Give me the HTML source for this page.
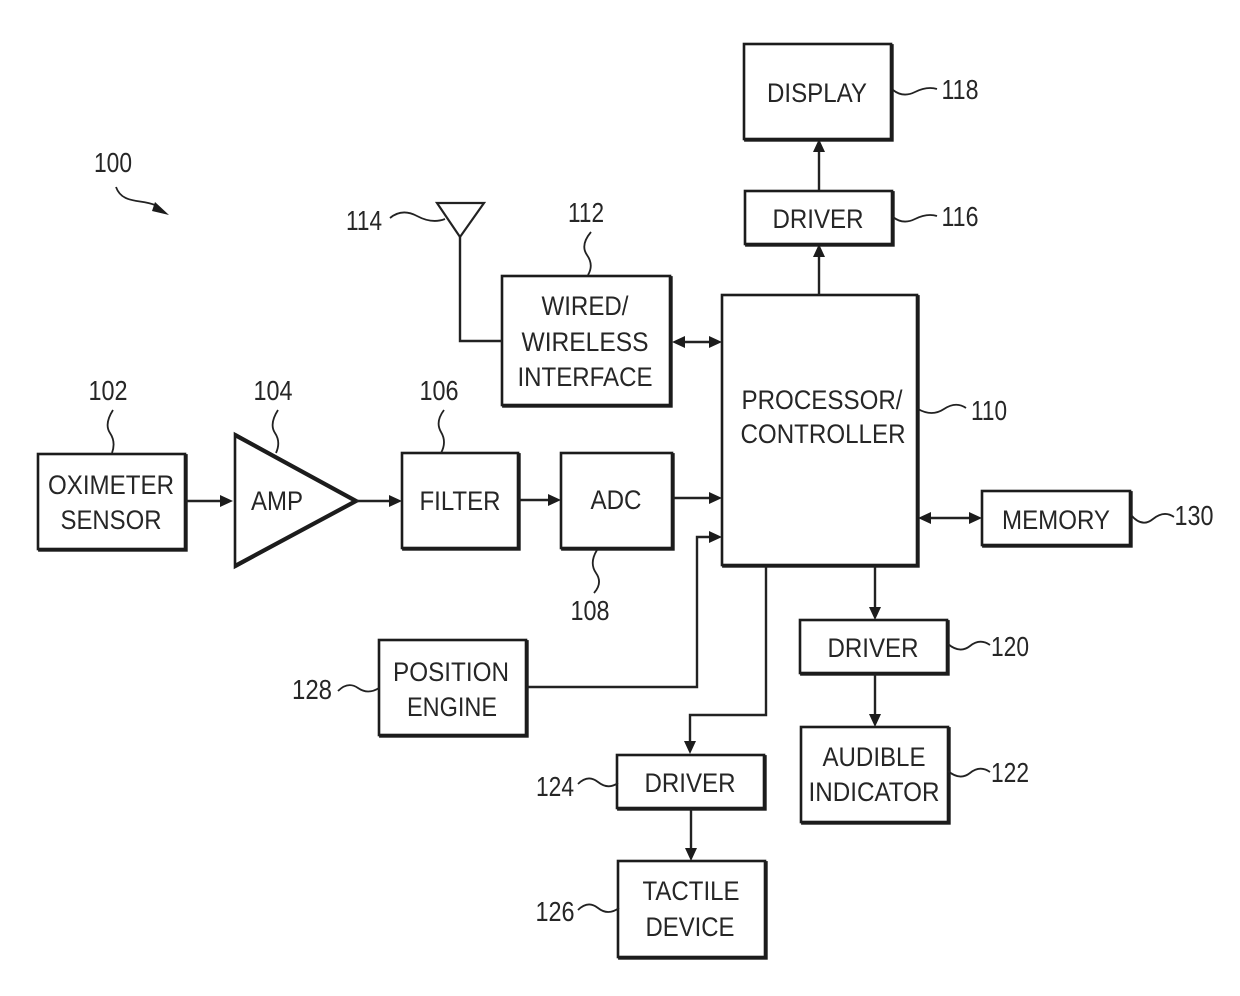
<!DOCTYPE html>
<html><head><meta charset="utf-8"><style>
html,body{margin:0;padding:0;background:#fff}
svg{display:block}
text{font-family:"Liberation Sans",sans-serif;font-size:27px;fill:#262626;text-anchor:middle}
.n{font-size:28px}
rect{fill:#fff;stroke:#1c1c1c;stroke-width:2.6}
.l{fill:none;stroke:#222;stroke-width:2.4}
.a{fill:#1c1c1c;stroke:none}
.q{fill:none;stroke:#222;stroke-width:1.8}
</style></head><body>
<svg width="1240" height="996" viewBox="0 0 1240 996" xmlns="http://www.w3.org/2000/svg">
<defs><g id="b">
<rect x="744" y="44" width="147" height="95"/>
<rect x="745" y="191" width="147" height="53"/>
<rect x="502" y="276" width="168" height="129"/>
<rect x="722" y="295" width="195" height="270"/>
<rect x="38" y="454" width="147" height="95"/>
<rect x="402" y="453" width="116" height="95"/>
<rect x="561" y="453" width="111" height="95"/>
<rect x="982" y="491" width="148" height="54"/>
<rect x="800" y="620" width="147" height="53"/>
<rect x="379" y="640" width="147" height="95"/>
<rect x="801" y="727" width="147" height="95"/>
<rect x="617" y="755" width="147" height="53"/>
<rect x="618" y="861" width="147" height="96"/>
</g></defs>
<use href="#b" x="1.4" y="1.4"/>
<use href="#b"/>
<polygon points="235,434 356,501 235,567" fill="#fff" stroke="#1c1c1c" stroke-width="2.6"/>
<path d="M235 435L356 501L235 566" fill="none" stroke="#1c1c1c" stroke-width="4.2"/>
<polygon points="437,203 484,203 460,237" fill="#fff" stroke="#222" stroke-width="2.2"/>
<path class="l" d="M460 237V341H502M819 295V256M819 190V150M680 342H712M925 518H972M186 501H222M356 501H392M519 500H552M673 498H712M527 687H697V537H712M766 566V715H690V744M875 566V610M875 674V716M691 809V851"/>
<path class="a" d="M819 244l-6 13h12zM819 139l-6 13h12zM672 342l13-6v12zM722 342l-13-6v12zM918 518l13-6v12zM982 518l-13-6v12zM233 501l-13-6v12zM402 501l-13-6v12zM561 500l-13-6v12zM722 498l-13-6v12zM722 537l-13-6v12zM690 754l-6-13h12zM875 620l-6-13h12zM875 727l-6-13h12zM691 861l-6-13h12z"/>
<g transform="translate(0,-0.8)">
<text x="817" y="103" textLength="100" lengthAdjust="spacingAndGlyphs">DISPLAY</text>
<text x="818" y="229" textLength="91" lengthAdjust="spacingAndGlyphs">DRIVER</text>
<text x="585" y="316" textLength="87" lengthAdjust="spacingAndGlyphs">WIRED/</text>
<text x="585" y="352" textLength="127" lengthAdjust="spacingAndGlyphs">WIRELESS</text>
<text x="585" y="387" textLength="135" lengthAdjust="spacingAndGlyphs">INTERFACE</text>
<text x="822" y="410" textLength="161" lengthAdjust="spacingAndGlyphs">PROCESSOR/</text>
<text x="823" y="444" textLength="165" lengthAdjust="spacingAndGlyphs">CONTROLLER</text>
<text x="111" y="495" textLength="126" lengthAdjust="spacingAndGlyphs">OXIMETER</text>
<text x="111" y="530" textLength="101" lengthAdjust="spacingAndGlyphs">SENSOR</text>
<text x="277" y="511" textLength="52" lengthAdjust="spacingAndGlyphs">AMP</text>
<text x="460" y="511" textLength="81" lengthAdjust="spacingAndGlyphs">FILTER</text>
<text x="616" y="510" textLength="51" lengthAdjust="spacingAndGlyphs">ADC</text>
<text x="1056" y="530" textLength="108" lengthAdjust="spacingAndGlyphs">MEMORY</text>
<text x="873" y="658" textLength="91" lengthAdjust="spacingAndGlyphs">DRIVER</text>
<text x="451" y="682" textLength="116" lengthAdjust="spacingAndGlyphs">POSITION</text>
<text x="452" y="717" textLength="90" lengthAdjust="spacingAndGlyphs">ENGINE</text>
<text x="874" y="767" textLength="103" lengthAdjust="spacingAndGlyphs">AUDIBLE</text>
<text x="874" y="802" textLength="131" lengthAdjust="spacingAndGlyphs">INDICATOR</text>
<text x="690" y="793" textLength="91" lengthAdjust="spacingAndGlyphs">DRIVER</text>
<text x="691" y="901" textLength="97" lengthAdjust="spacingAndGlyphs">TACTILE</text>
<text x="690" y="937" textLength="89" lengthAdjust="spacingAndGlyphs">DEVICE</text>
</g>
<text class="n" x="113" y="172" textLength="38" lengthAdjust="spacingAndGlyphs">100</text>
<text class="n" x="960" y="99" textLength="37" lengthAdjust="spacingAndGlyphs">118</text>
<text class="n" x="960" y="226" textLength="37" lengthAdjust="spacingAndGlyphs">116</text>
<text class="n" x="364" y="230" textLength="36" lengthAdjust="spacingAndGlyphs">114</text>
<text class="n" x="586" y="222" textLength="36" lengthAdjust="spacingAndGlyphs">112</text>
<text class="n" x="989" y="420" textLength="36" lengthAdjust="spacingAndGlyphs">110</text>
<text class="n" x="108" y="400" textLength="39" lengthAdjust="spacingAndGlyphs">102</text>
<text class="n" x="273" y="400" textLength="39" lengthAdjust="spacingAndGlyphs">104</text>
<text class="n" x="439" y="400" textLength="39" lengthAdjust="spacingAndGlyphs">106</text>
<text class="n" x="590" y="620" textLength="39" lengthAdjust="spacingAndGlyphs">108</text>
<text class="n" x="1194" y="525" textLength="39" lengthAdjust="spacingAndGlyphs">130</text>
<text class="n" x="1010" y="656" textLength="38" lengthAdjust="spacingAndGlyphs">120</text>
<text class="n" x="1010" y="782" textLength="38" lengthAdjust="spacingAndGlyphs">122</text>
<text class="n" x="312" y="699" textLength="40" lengthAdjust="spacingAndGlyphs">128</text>
<text class="n" x="555" y="796" textLength="38" lengthAdjust="spacingAndGlyphs">124</text>
<text class="n" x="555" y="921" textLength="39" lengthAdjust="spacingAndGlyphs">126</text>
<path class="q" d="M116 187C122 204 140 199 155 205"/>
<path class="a" d="M169 215L155 202L152 211z"/>
<path class="q" d="M893 90Q903 98 915 92T937 89M893 217Q903 225 915 219T937 216M390 218Q402 208 417 216T445 219M591 232Q580 245 587 255T588 275M918 409Q932 417 944 409T966 408M113 410Q104 424 110 433T112 453M278 410Q269 424 275 433T276 453M444 410Q435 422 441 432T441 453M597 550Q589 563 596 573T594 593M1131 515Q1142 528 1153 519T1174 517M948 644Q960 654 970 646T990 645M948 771Q960 781 970 773T990 772M338 691Q348 681 358 688T379 688M578 784Q588 774 598 782T618 783M578 910Q588 900 598 908T619 908"/>
</svg>
</body></html>
